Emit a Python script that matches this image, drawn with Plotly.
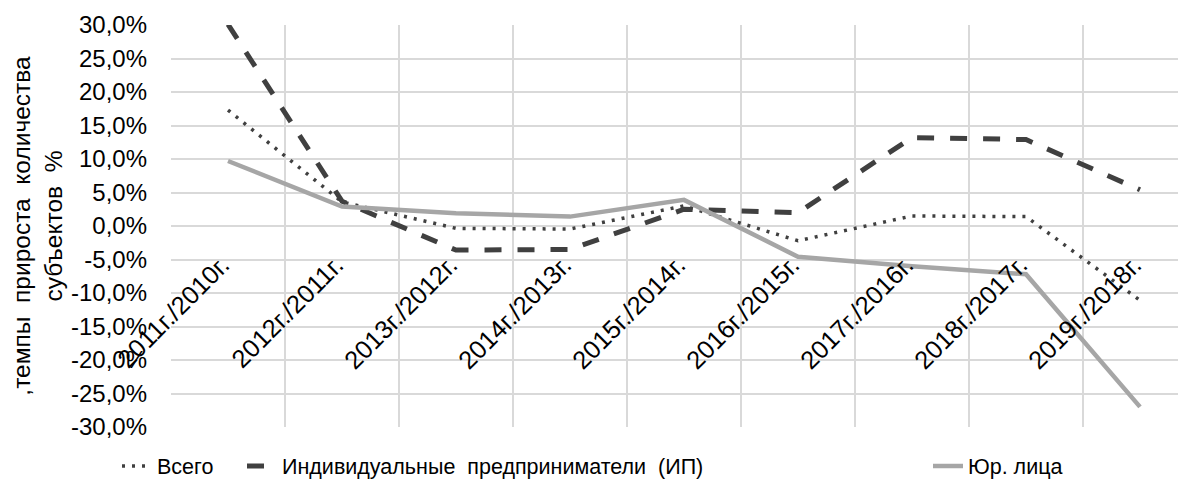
import plotly.graph_objects as go

categories = ["2011г./2010г.", "2012г./2011г.", "2013г./2012г.", "2014г./2013г.",
              "2015г./2014г.", "2016г./2015г.", "2017г./2016г.", "2018г./2017г.",
              "2019г./2018г."]
total = [17.3, 3.6, -0.35, -0.45, 3.0, -2.2, 1.5, 1.4, -11.1]
ip = [30.1, 3.7, -3.6, -3.5, 2.5, 2.0, 13.2, 12.9, 5.4]
legal = [9.7, 2.9, 1.9, 1.4, 3.9, -4.6, -6.0, -7.2, -27.0]

y_ticks = [30, 25, 20, 15, 10, 5, 0, -5, -10, -15, -20, -25, -30]
y_labels = ["30,0%", "25,0%", "20,0%", "15,0%", "10,0%", "5,0%", "0,0%",
            "-5,0%", "-10,0%", "-15,0%", "-20,0%", "-25,0%", "-30,0%"]

names = ["Всего", "Индивидуальные  предприниматели  (ИП)", "Юр. лица"]
y_title = ",темпы  прироста  количества<br>субъектов  %"

FONT = "Liberation Sans, Arial, sans-serif"
# the page body has an 8px margin; size the figure so it fills the window
OFF = 8
W, H = 1186 - OFF, 486 - OFF
L, R, T, B = 171 - OFF, 0, 25 - OFF, 486 - 427
ymin, ymax = -30, 30

fig = go.Figure()
fig.add_trace(go.Scatter(x=categories, y=total, name=names[0], mode="lines",
                         line=dict(color="#404040", width=3.5, dash="3px,7px"),
                         legend="legend"))
fig.add_trace(go.Scatter(x=categories, y=ip, name=names[1], mode="lines",
                         line=dict(color="#404040", width=5, dash="17px,16px"),
                         legend="legend2"))
fig.add_trace(go.Scatter(x=categories, y=legal, name=names[2], mode="lines",
                         line=dict(color="#a6a6a6", width=4.5),
                         legend="legend3"))

cat_w = (W - L - R) / 114.0

leg_common = dict(orientation="h", xref="container", yref="container",
                  yanchor="middle", y=1 - (466 - OFF) / H, bgcolor="rgba(0,0,0,0)",
                  font=dict(family=FONT, size=21.5, color="#000000"))

fig.update_layout(
    width=W, height=H,
    margin=dict(l=L, r=R, t=T, b=B, autoexpand=False),
    plot_bgcolor="white", paper_bgcolor="white",
    font=dict(family=FONT, size=22, color="#000000"),
    showlegend=True,
    legend=dict(x=(117 - OFF) / W, **leg_common),
    legend2=dict(x=(242 - OFF) / W, **leg_common),
    legend3=dict(x=(928 - OFF) / W, **leg_common),
    xaxis=dict(type="category", categoryorder="array", categoryarray=categories,
               range=[-0.5, -0.5 + cat_w], tickson="boundaries",
               showgrid=True, gridcolor="#d9d9d9", gridwidth=1.5,
               showline=False, ticks="", tickangle=-45, automargin=False,
               anchor="free", position=(0 - ymin) / (ymax - ymin),
               ticklabelstandoff=18, ticklabelshift=-6,
               tickfont=dict(family=FONT, size=25.5, color="#000000")),
    yaxis=dict(range=[ymin, ymax], tickvals=y_ticks, ticktext=y_labels,
               showgrid=True, gridcolor="#d9d9d9", gridwidth=1.5,
               zeroline=False, showline=False, ticks="", automargin=False,
               ticklabelstandoff=23,
               tickfont=dict(family=FONT, size=24, color="#000000"),
               title=dict(text=y_title, standoff=6,
                          font=dict(family=FONT, size=24.5, color="#000000"))),
)

fig.write_html("out.html")
